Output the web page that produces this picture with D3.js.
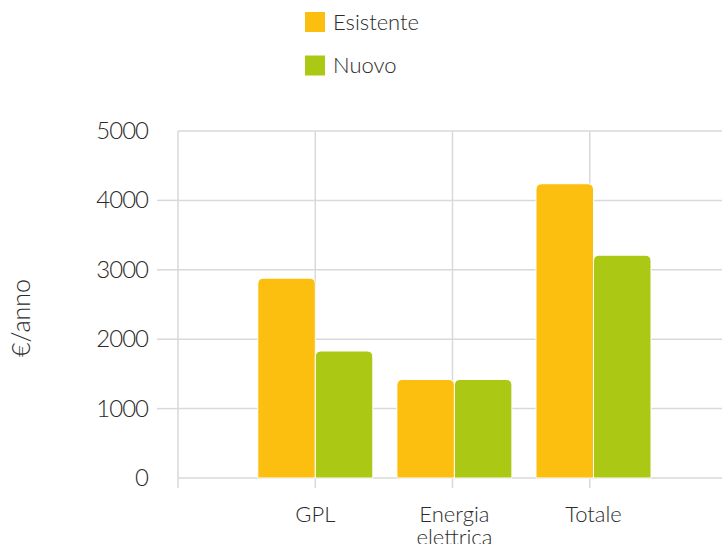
<!DOCTYPE html>
<html>
<head>
<meta charset="utf-8">
<script src="https://cdn.jsdelivr.net/npm/d3@7"></script>
<style>
  html, body { margin: 0; padding: 0; background: #fff; }
  svg { display: block; font-family: "Lato", "Open Sans", sans-serif; font-weight: 300; }
</style>
</head>
<body>
<svg id="chart" width="722" height="544"></svg>
<script>
const categories = ["GPL", "Energia elettrica", "Totale"];
const seriesNames = ["Esistente", "Nuovo"];
const esistente = [2880, 1420, 4240];
const nuovo = [1830, 1420, 3210];
const yTicks = [0, 1000, 2000, 3000, 4000, 5000];
const colors = ["#FCBE0F", "#ABC814"];
const yTitle = "€/anno";

(function () {
const svg = d3.select("#chart");
const W = 722, H = 544;
const mLeft = 178, mTop = 131, mBottom = 478;

const xDomain = ["__start"].concat(categories, ["__end"]);
// grid positions
const x = d3.scalePoint().domain(xDomain).range([mLeft, 727]);
// bar group centres (slightly wider spacing than grid in the original)
const xb = d3.scalePoint().domain(xDomain).range([176.2, 732.6]);
const x1 = d3.scaleBand().domain(seriesNames).range([-57.5, 57.5]).padding(0);
const y = d3.scaleLinear().domain([0, 5000]).range([mBottom, mTop]);

const grid = "#d9d9d9";
const textCol = "#2b2b2b";

// horizontal gridlines
svg.append("g").selectAll("line").data(yTicks).join("line")
  .attr("x1", mLeft).attr("x2", W)
  .attr("y1", d => y(d)).attr("y2", d => y(d))
  .attr("stroke", grid).attr("stroke-width", 1.5);

// left tick marks (inner ticks only)
svg.append("g").selectAll("line").data(yTicks.filter(d => d > 0 && d < 5000)).join("line")
  .attr("x1", 157).attr("x2", mLeft)
  .attr("y1", d => y(d)).attr("y2", d => y(d))
  .attr("stroke", grid).attr("stroke-width", 1.5);

// vertical gridlines at category points
svg.append("g").selectAll("line").data(xDomain.slice(0, 4)).join("line")
  .attr("x1", d => x(d)).attr("x2", d => x(d))
  .attr("y1", mTop).attr("y2", mBottom + 10)
  .attr("stroke", grid).attr("stroke-width", 1.5);

// y tick labels
svg.append("g").selectAll("text").data(yTicks).join("text")
  .attr("x", 148).attr("y", d => y(d))
  .attr("dy", "0.33em")
  .attr("text-anchor", "end")
  .attr("font-size", 24)
  .attr("letter-spacing", -1)
  .attr("fill", textCol)
  .text(d => d);

// y title
svg.append("text")
  .attr("transform", `translate(30,318) rotate(-90)`)
  .attr("text-anchor", "middle")
  .attr("font-size", 25)
  .attr("fill", textCol)
  .text(yTitle);

// bars
function topRounded(x0, y0, w, h, r) {
  r = Math.min(r, h, w / 2);
  return `M${x0},${y0 + h}V${y0 + r}Q${x0},${y0} ${x0 + r},${y0}H${x0 + w - r}Q${x0 + w},${y0} ${x0 + w},${y0 + r}V${y0 + h}Z`;
}
const barData = [];
categories.forEach((c, i) => {
  barData.push({cat: c, s: seriesNames[0], v: esistente[i], col: colors[0]});
  barData.push({cat: c, s: seriesNames[1], v: nuovo[i], col: colors[1]});
});
svg.append("g").selectAll("path").data(barData).join("path")
  .attr("d", d => topRounded(xb(d.cat) + x1(d.s), y(d.v), x1.bandwidth(), y(0) - y(d.v), 6))
  .attr("fill", d => d.col)
  .attr("stroke", "#fff").attr("stroke-width", 1);

// x labels
const xl = svg.append("g").selectAll("text").data(categories).join("text")
  .attr("x", d => xb(d))
  .attr("y", 522)
  .attr("text-anchor", "middle")
  .attr("font-size", 22)
  .attr("fill", textCol);
xl.each(function(d) {
  const parts = d.split(" ");
  const t = d3.select(this);
  if (parts.length > 1) {
    t.attr("y", 522);
    parts.forEach((p, i) => {
      t.append("tspan").attr("x", xb(d)).attr("dy", i === 0 ? 0 : "1.05em").text(p);
    });
  } else {
    t.text(d);
  }
});

// legend
const lg = svg.append("g").selectAll("g").data(seriesNames).join("g")
  .attr("transform", (d, i) => `translate(305,${12 + i * 43.5})`);
lg.append("rect").attr("width", 20).attr("height", 20).attr("fill", (d, i) => colors[i]);
lg.append("text").attr("x", 28).attr("y", 10).attr("dy", "0.36em")
  .attr("font-size", 22).attr("fill", textCol).text(d => d);
})();
</script>
</body>
</html>
